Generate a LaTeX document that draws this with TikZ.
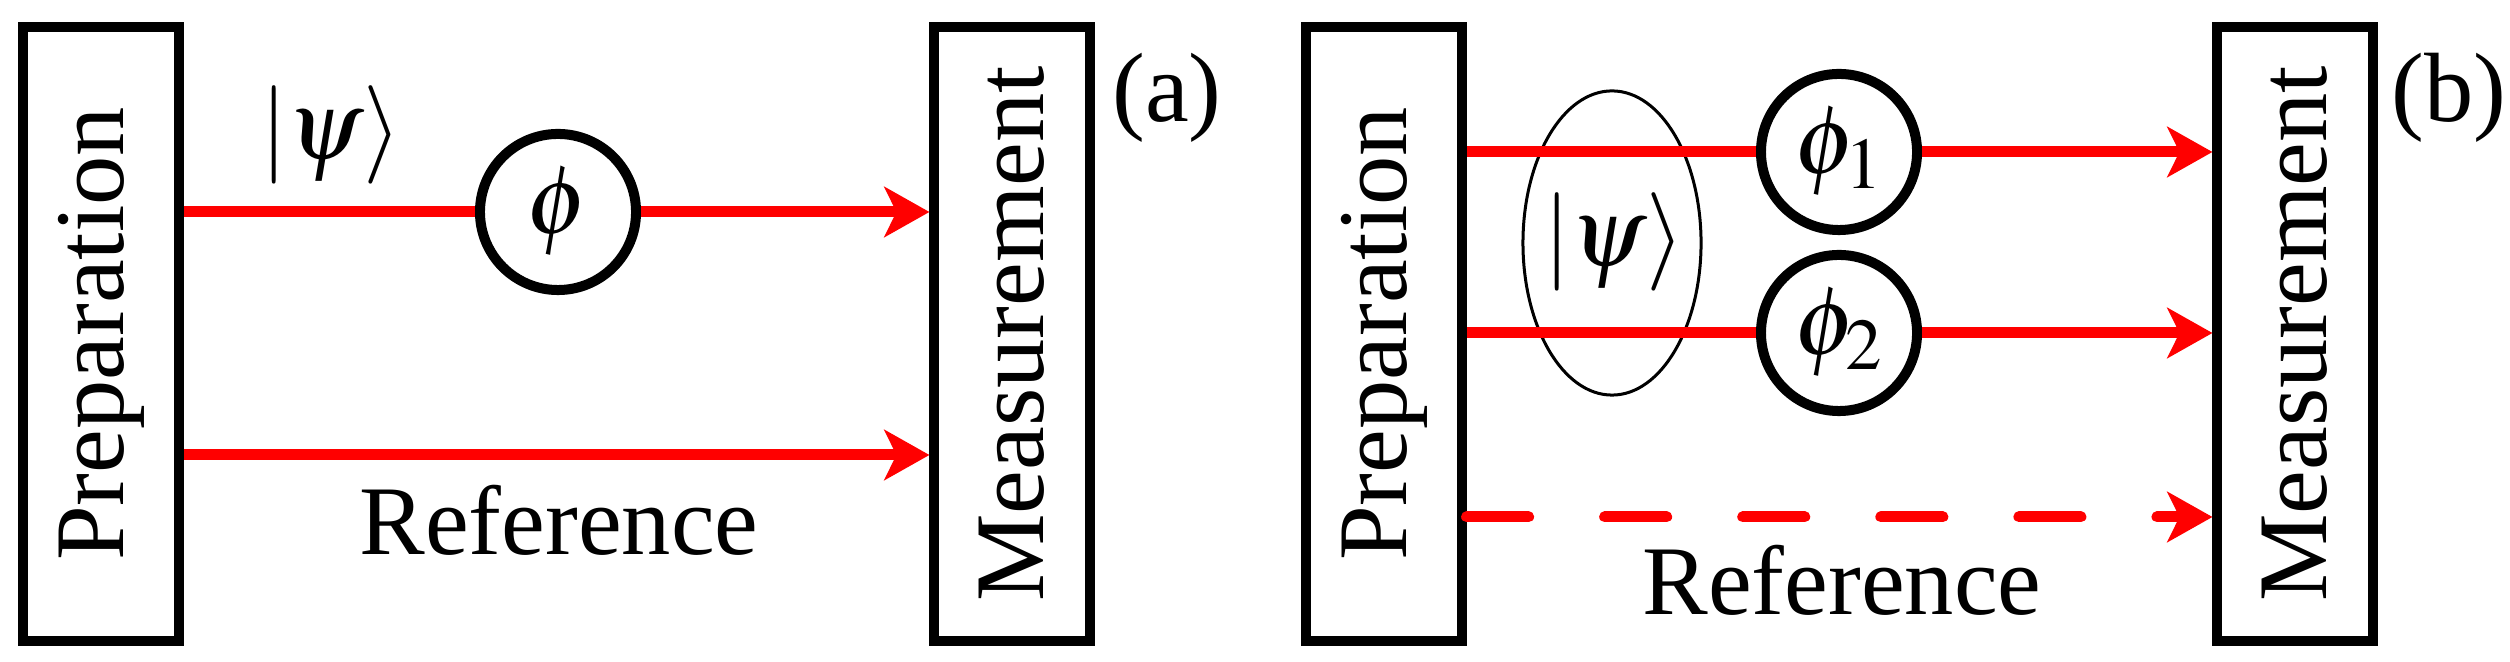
\documentclass[tikz,border=0pt]{standalone}
\usepackage{mathptmx}
\usepackage{fontspec}
\setmainfont{Liberation Serif}
\usetikzlibrary{arrows.meta,shapes.geometric}
\begin{document}
\begin{tikzpicture}[x=0.01cm,y=-0.01cm,
  every node/.style={font=\fontsize{28}{30}\selectfont, inner sep=0pt},
  box/.style={draw, line width=0.1cm, minimum width=1.55cm, minimum height=6.13cm},
  phase/.style={draw, circle, line width=0.1cm, minimum size=1.56cm},
  beam/.style={draw=red, line width=0.11cm, -{Stealth[length=0.45cm,width=0.5cm,inset=0.12cm]}},
  plain/.style={draw=red, line width=0.11cm}]
\useasboundingbox (0,0) rectangle (2510,662);
% panel (a)
\node[box] (prepA) at (101,334) {};
\node[rotate=90] (prepAt) at (101,334) {Preparation};
\node[box] (measA) at (1012,334) {};
\node[rotate=90] (measAt) at (1012,334) {Measurement};
\node (labA) at (1167,98) {(a)};
\node[phase] (phiA) at (558,212) {$\phi$};
\node (psiA) at (331,135) {$|\psi\rangle$};
\coordinate (refA) at (101,455);
\node[anchor=base] (refAt) at (559,555) {Reference};
\draw[plain] (prepA.east |- phiA) -- (phiA.west);
\draw[beam] (phiA.east) -- (measA.west |- phiA);
\draw[beam] (prepA.east |- refA) -- (measA.west |- refA);
% panel (b)
\node[box] (prepB) at (1384,334) {};
\node[rotate=90] (prepBt) at (1384,334) {Preparation};
\node[box] (measB) at (2295,334) {};
\node[rotate=90] (measBt) at (2295,334) {Measurement};
\node (labB) at (2449,98) {(b)};
\node[draw, ellipse, line width=0.03cm, minimum width=1.78cm, minimum height=3.04cm] (ell) at (1612,243) {};
\node (psiB) at (1614,242) {$|\psi\rangle$};
\node[phase] (phi1) at (1839,152) {$\phi_1$};
\node[phase] (phi2) at (1839,333) {$\phi_2$};
\coordinate (refB) at (1384,517);
\node[anchor=base] (refBt) at (1842,615) {Reference};
\draw[plain] (prepB.east |- phi1) -- (phi1.west);
\draw[beam] (phi1.east) -- (measB.west |- phi1);
\draw[plain] (prepB.east |- phi2) -- (phi2.west);
\draw[beam] (phi2.east) -- (measB.west |- phi2);
\draw[beam, line cap=round, dash pattern=on 0.62cm off 0.76cm] (prepB.east |- refB) -- (measB.west |- refB);
\end{tikzpicture}
\end{document}
